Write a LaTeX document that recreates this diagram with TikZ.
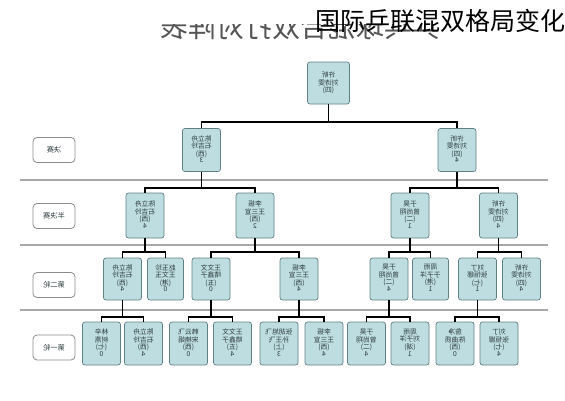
\documentclass[tikz,border=0pt]{standalone}
\usepackage{fontspec}
\usepackage{graphicx}
\newfontfamily\cjk{Noto Sans CJK SC}
\newcommand{\mirt}[1]{\reflectbox{\begin{tabular}{@{}c@{}}#1\end{tabular}}}
\renewcommand{\arraystretch}{0.78}
\definecolor{boxfill}{HTML}{BEDDE0}
\definecolor{boxline}{HTML}{5F8084}
\definecolor{tcol}{HTML}{2E3E40}
\definecolor{labline}{HTML}{8C8C8C}
\definecolor{sepcol}{HTML}{A8A8A8}
\definecolor{titcol}{HTML}{555555}
\tikzset{
  team/.style={draw=boxline, fill=boxfill, rounded corners=2.5pt, line width=0.7pt,
    minimum width=38pt, minimum height=43pt, inner sep=0pt, text=tcol,
    font=\cjk\fontsize{6.8}{7.8}\selectfont},
  lab/.style={draw=labline, fill=white, rounded corners=4pt, line width=0.8pt,
    minimum width=42pt, minimum height=25pt, inner sep=0pt, text=tcol,
    font=\cjk\fontsize{7.2}{8}\selectfont},
  conn/.style={line width=1.3pt, black},
  sepline/.style={line width=1.6pt, sepcol}
}
\begin{document}
\begin{tikzpicture}[x=1pt, y=-1pt]
\useasboundingbox (0,0) rectangle (565,400);
\fill[white] (0,0) rectangle (565,400);

% title (mirrored, top cut)
\begin{scope}
\clip (140,24) rectangle (470,60);
\node[inner sep=0pt, text=titcol, font=\cjk\fontsize{28}{28}\selectfont] (title) at (300,27) {\reflectbox{乒乓球混合双打对阵表}};
\end{scope}
\node[anchor=east, inner sep=0pt, font=\cjk\fontsize{25}{25}\selectfont] (overlay) at (566,21) {国际乒联混双格局变化};

% separators
\coordinate (sa1) at (20,180); \coordinate (sa2) at (548,180);
\coordinate (sb1) at (20,245); \coordinate (sb2) at (548,245);
\coordinate (sc1) at (20,310); \coordinate (sc2) at (548,310);
\draw[sepline] (sa1) -- (sa2);
\draw[sepline] (sb1) -- (sb2);
\draw[sepline] (sc1) -- (sc2);

% round labels
\node[lab] (l1) at (54,150) {\reflectbox{决赛}};
\node[lab] (l2) at (54,216) {\reflectbox{半决赛}};
\node[lab] (l3) at (54,285) {\reflectbox{第二轮}};
\node[lab] (l4) at (54,347.5) {\reflectbox{第一轮}};

% champion
\node[team, minimum width=42pt, minimum height=42pt] (top) at (328.5,83) {\mirt{许昕\\刘诗雯\\(四)}};

% final
\node[team] (fL) at (201.5,150) {\mirt{陈立舟\\石吉玲\\(西)\\3}};
\node[team] (fR) at (457,150) {\mirt{许昕\\刘诗雯\\(四)\\4}};

% semi-final
\node[team, minimum height=45pt] (sL1) at (145,215.5) {\mirt{陈立舟\\石吉玲\\(西)\\4}};
\node[team, minimum height=45pt] (sL2) at (255,215.5) {\mirt{李振\\王三宣\\(西)\\2}};
\node[team, minimum height=45pt] (sR1) at (410,215.5) {\mirt{于昊\\曾尚翔\\(二)\\1}};
\node[team, minimum height=45pt] (sR2) at (498.5,215.5) {\mirt{许昕\\刘诗雯\\(四)\\4}};

% second round
\node[team, minimum height=42pt] (q1) at (122.5,279) {\mirt{陈立舟\\石吉玲\\(西)\\4}};
\node[team, minimum height=42pt, minimum width=36pt] (q2) at (165.5,279) {\mirt{赵玉珍\\王文玉\\(港)\\0}};
\node[team, minimum height=42pt] (q3) at (211,279) {\mirt{王文文\\晴鑫子\\(五)\\0}};
\node[team, minimum height=42pt] (q4) at (299,279) {\mirt{李振\\王三宣\\(西)\\4}};
\node[team, minimum height=42pt] (q5) at (389,279) {\mirt{于昊\\曾尚翔\\(二)\\4}};
\node[team, minimum height=42pt, minimum width=36pt] (q6) at (430.5,279) {\mirt{周雨\\于子洋\\(港)\\1}};
\node[team, minimum height=42pt] (q7) at (477.5,279) {\mirt{刘丁\\张恒娜\\(七)\\1}};
\node[team, minimum height=42pt] (q8) at (521.5,279) {\mirt{许昕\\刘诗雯\\(四)\\4}};

% first round
\node[team] (p1) at (101.5,343.5) {\mirt{林辛\\树燕\\(七)\\0}};
\node[team] (p2) at (143.5,343.5) {\mirt{陈立舟\\石吉玲\\(西)\\4}};
\node[team] (p3) at (188.5,343.5) {\mirt{韩云飞\\宋楠娟\\(西)\\0}};
\node[team] (p4) at (232.5,343.5) {\mirt{王文文\\晴鑫子\\(五)\\4}};
\node[team] (p5) at (279,343.5) {\mirt{张胡旭飞\\孙王飞\\(上)\\3}};
\node[team] (p6) at (324,343.5) {\mirt{李振\\王三宣\\(西)\\4}};
\node[team] (p7) at (366.5,343.5) {\mirt{于昊\\曾尚翔\\(二)\\4}};
\node[team] (p8) at (410,343.5) {\mirt{周雨\\刘子洋\\(湖)\\1}};
\node[team] (p9) at (455,343.5) {\mirt{詹净\\陈曲质\\(西)\\0}};
\node[team] (p10) at (499,343.5) {\mirt{刘丁\\张恒娜\\(七)\\4}};

% junction levels
\coordinate (h0) at (0,122);
\coordinate (h1) at (0,188);
\coordinate (h2) at (0,252);
\coordinate (h3) at (0,317);

% connectors
\draw[conn] (top.south) -- (top.south |- h0);
\draw[conn] (fL.north) -- (fL.north |- h0) -- (fR.north |- h0) -- (fR.north);

\draw[conn] (fL.south) -- (fL.south |- h1);
\draw[conn] (sL1.north) -- (sL1.north |- h1) -- (sL2.north |- h1) -- (sL2.north);
\draw[conn] (fR.south) -- (fR.south |- h1);
\draw[conn] (sR1.north) -- (sR1.north |- h1) -- (sR2.north |- h1) -- (sR2.north);

\draw[conn] (sL1.south) -- (sL1.south |- h2);
\draw[conn] (q1.north) -- (q1.north |- h2) -- (q2.north |- h2) -- (q2.north);
\draw[conn] (sL2.south) -- (sL2.south |- h2);
\draw[conn] (q3.north) -- (q3.north |- h2) -- (q4.north |- h2) -- (q4.north);
\draw[conn] (sR1.south) -- (sR1.south |- h2);
\draw[conn] (q5.north) -- (q5.north |- h2) -- (q6.north |- h2) -- (q6.north);
\draw[conn] (sR2.south) -- (sR2.south |- h2);
\draw[conn] (q7.north) -- (q7.north |- h2) -- (q8.north |- h2) -- (q8.north);

\draw[conn] (q1.south) -- (q1.south |- h3);
\draw[conn] (p1.north) -- (p1.north |- h3) -- (p2.north |- h3) -- (p2.north);
\draw[conn] (q3.south) -- (q3.south |- h3);
\draw[conn] (p3.north) -- (p3.north |- h3) -- (p4.north |- h3) -- (p4.north);
\draw[conn] (q4.south) -- (q4.south |- h3);
\draw[conn] (p5.north) -- (p5.north |- h3) -- (p6.north |- h3) -- (p6.north);
\draw[conn] (q5.south) -- (q5.south |- h3);
\draw[conn] (p7.north) -- (p7.north |- h3) -- (p8.north |- h3) -- (p8.north);
\draw[conn] (q7.south) -- (q7.south |- h3);
\draw[conn] (p9.north) -- (p9.north |- h3) -- (p10.north |- h3) -- (p10.north);
\end{tikzpicture}
\end{document}
